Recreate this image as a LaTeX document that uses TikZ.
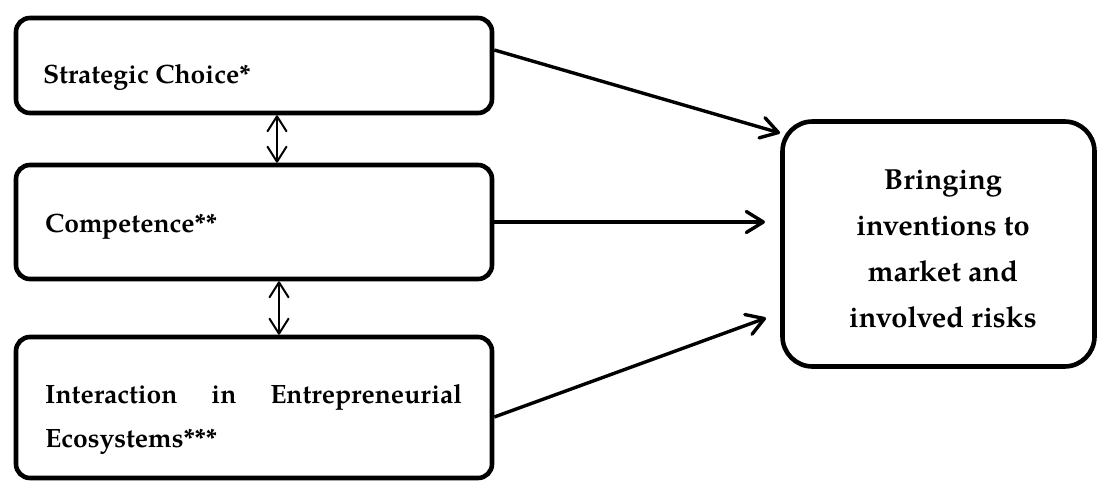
\documentclass[tikz,border=0pt]{standalone}
\usepackage{fontspec}
\setmainfont{TeX Gyre Pagella}
\usetikzlibrary{arrows.meta}
\tikzset{
  lbox/.style={draw, line width=4.6pt, rounded corners=14pt, minimum width=476pt, inner sep=0pt},
  rbox/.style={draw, line width=4.6pt, rounded corners=30pt, minimum width=312pt, minimum height=245pt, inner sep=0pt},
  lbl/.style={anchor=base west, inner sep=0pt, font=\fontsize{26.5}{45}\selectfont\bfseries},
  flow/.style={line width=3.4pt, -{Straight Barb[length=17pt,width=21pt,round]}},
  link/.style={line width=2pt, {Straight Barb[length=15pt,width=19pt,round]}-{Straight Barb[length=15pt,width=19pt,round]}}
}
\begin{document}
\begin{tikzpicture}[x=1pt,y=-1pt]
\useasboundingbox (0,0) rectangle (1097,482);
\node[lbox, minimum height=95pt] (b1) at (254,65.5) {};
\node[lbox, minimum height=114pt] (b2) at (254,222) {};
\node[lbox, minimum height=141pt] (b3) at (254,407.5) {};
\node[rbox] (rb) at (938.5,244) {};

\node[lbl] (l1) at (43,83) {Strategic Choice*};
\node[lbl] (l2) at (45,232) {Competence**};
\node[lbl] (l3a) at (45,403) {\makebox[417pt][s]{Interaction\hfill in\hfill Entrepreneurial}};
\node[lbl] (l3b) at (45,447) {Ecosystems***};
\node[align=center, inner sep=0pt, font=\fontsize{29}{46}\selectfont\bfseries, anchor=base] (rt) at (943,327)
  {Bringing\\inventions to\\market and\\involved risks};

\coordinate (t1) at (780,133);
\coordinate (t2) at (765,222);
\coordinate (t3) at (766,318);
\draw[flow] ([yshift=15.5pt]b1.east) -- (t1);
\draw[flow] (b2.east) -- (t2);
\draw[flow] ([yshift=-9.5pt]b3.east) -- (t3);

\draw[link] ([xshift=23pt]b1.south) -- ([xshift=23pt]b2.north);
\draw[link] ([xshift=25pt]b2.south) -- ([xshift=25pt]b3.north);
\end{tikzpicture}
\end{document}
